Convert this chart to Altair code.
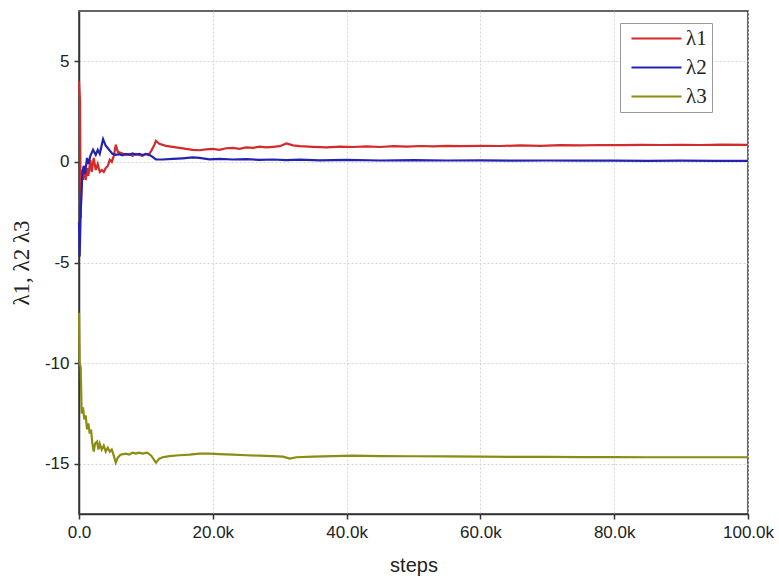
import altair as alt
import pandas as pd

# ---- data ----
red_steps = [0, 150, 250, 400, 600, 800, 1000, 1200, 1400, 1700, 1900, 2200, 2500, 2800, 3100, 3400,
             3700, 4000, 4300, 4600, 4900, 5200, 5500, 5800, 6200, 6600, 7000, 7500, 8000, 8500, 9000,
             9500, 10000, 10400, 10800, 11200, 11500, 12000, 13000, 14000, 15000, 16000, 17000, 18000,
             19000, 20000, 21000, 22000, 23000, 24000, 25000, 26000, 27000, 28000, 29000, 30000, 31000,
             32000, 33000, 35000, 37000, 39000, 41000, 43000, 45000, 47000, 49000, 51000, 53000, 55000,
             57000, 60000, 63000, 66000, 69000, 72000, 75000, 78000, 81000, 84000, 87000, 90000, 93000,
             96000, 100000]
red_vals = [4.0, 3.0, -2.8, -0.4, -0.9, -0.2, -0.9, -0.3, -0.7, 0.1, -0.5, 0.2, -0.4, -0.1, -0.5, -0.4,
            -0.5, -0.3, -0.2, 0.1, 0.0, 0.3, 0.85, 0.5, 0.45, 0.4, 0.35, 0.4, 0.3, 0.4, 0.35,
            0.3, 0.4, 0.35, 0.55, 0.8, 1.05, 0.9, 0.8, 0.75, 0.7, 0.65, 0.6, 0.58,
            0.62, 0.65, 0.6, 0.68, 0.7, 0.65, 0.72, 0.7, 0.76, 0.72, 0.75, 0.78, 0.92,
            0.82, 0.78, 0.75, 0.72, 0.76, 0.74, 0.77, 0.74, 0.78, 0.76, 0.79, 0.77, 0.8,
            0.78, 0.8, 0.79, 0.82, 0.8, 0.83, 0.82, 0.84, 0.83, 0.85, 0.84, 0.85, 0.84,
            0.86, 0.85]

blue_steps = [0, 100, 250, 500, 700, 900, 1200, 1400, 1700, 2100, 2500, 2800, 3100, 3600, 4000, 4500,
              5000, 5500, 6000, 6500, 7000, 7500, 8000, 8500, 9000, 9500, 10000, 10500, 11000, 11500,
              12500, 14000, 15500, 17000, 18000, 19500, 21000, 23000, 25000, 27000, 29000, 31000,
              33000, 36000, 40000, 45000, 50000, 55000, 60000, 65000, 70000, 75000, 80000, 85000,
              90000, 95000, 100000]
blue_vals = [-3.0, -4.7, -2.5, -0.6, -0.2, -0.6, 0.2, -0.1, 0.3, 0.6, 0.35, 0.6, 0.4, 1.13, 0.8, 0.6,
             0.4, 0.35, 0.38, 0.33, 0.4, 0.35, 0.42, 0.36, 0.4, 0.34, 0.4, 0.35, 0.25, 0.12,
             0.12, 0.15, 0.18, 0.22, 0.2, 0.13, 0.15, 0.12, 0.14, 0.1, 0.12, 0.09,
             0.11, 0.08, 0.1, 0.07, 0.09, 0.07, 0.08, 0.06, 0.07, 0.06, 0.06, 0.05,
             0.06, 0.05, 0.05]

olive_steps = [0, 100, 250, 400, 600, 800, 1000, 1200, 1400, 1600, 1800, 2000, 2200, 2400, 2700, 2900,
               3100, 3400, 3700, 4000, 4300, 4600, 4900, 5200, 5500, 5800, 6200, 7000, 7500, 8000,
               8500, 9000, 9500, 10200, 10800, 11500, 12000, 12500, 13500, 15000, 16500, 18000, 19500,
               21000, 23000, 25000, 27000, 29000, 30500, 31500, 32500, 35000, 38000, 41000, 45000,
               50000, 55000, 60000, 65000, 70000, 75000, 80000, 85000, 90000, 95000, 100000]
olive_vals = [-7.5, -10.0, -10.2, -12.5, -12.2, -12.8, -12.6, -13.3, -13.0, -13.5, -13.3, -14.0, -14.4,
              -14.0, -13.9, -14.3, -14.0, -14.3, -14.1, -14.4, -14.2, -14.4, -14.3, -14.6, -14.95,
              -14.7, -14.55, -14.5, -14.55, -14.45, -14.5, -14.45, -14.5, -14.45, -14.6, -14.95,
              -14.75, -14.68, -14.62, -14.58, -14.55, -14.5, -14.5, -14.52, -14.55, -14.58, -14.6,
              -14.62, -14.65, -14.75, -14.68, -14.65, -14.62, -14.6, -14.62, -14.63, -14.64, -14.65,
              -14.66, -14.66, -14.67, -14.67, -14.68, -14.68, -14.68, -14.68]

series_names = ["λ1", "λ2", "λ3"]
series_colors = ["#d42a2a", "#2323b0", "#8c8c10"]

rows = []
for name, st, vs in zip(series_names, [red_steps, blue_steps, olive_steps],
                        [red_vals, blue_vals, olive_vals]):
    for i, (s, v) in enumerate(zip(st, vs)):
        rows.append({"steps": s, "value": v, "series": name, "order": i})
df = pd.DataFrame(rows)

x_label_expr = "datum.value == 0 ? '0.0' : format(datum.value / 1000, '.1f') + 'k'"
y_label_expr = "'' + datum.value"

chart = alt.Chart(df).mark_line(strokeWidth=2.2).encode(
    x=alt.X("steps:Q", scale=alt.Scale(domain=[0, 100000], nice=False),
            axis=alt.Axis(values=[0, 20000, 40000, 60000, 80000, 100000], labelExpr=x_label_expr,
                          labelFlush=False, labelOverlap=False,
                          title="steps", titleFontSize=20, titleFontWeight="normal",
                          titleFont="Liberation Sans", titlePadding=15)),
    y=alt.Y("value:Q", scale=alt.Scale(domain=[-17.5, 7.5], nice=False, zero=False),
            axis=alt.Axis(values=[-15, -10, -5, 0, 5], labelExpr=y_label_expr, labelFlush=False,
                          title="λ1, λ2 λ3", titleFont="Liberation Serif",
                          titleFontSize=23, titleFontWeight="normal", titlePadding=11)),
    color=alt.Color("series:N", scale=alt.Scale(domain=series_names, range=series_colors),
                    legend=alt.Legend(title=None, orient="none", legendX=541, legendY=12,
                                      symbolType="M-4,0L4,0", symbolSize=156.25, symbolStrokeWidth=2,
                                      symbolOffset=21,
                                      labelFont="Liberation Serif", labelFontSize=21,
                                      labelColor="#222", strokeColor="#999", fillColor="white",
                                      padding=5, rowPadding=7, labelOffset=19)),
    order="order:Q",
).properties(
    width=669, height=503,
    autosize=alt.AutoSizeParams(type="none"),
    padding={"left": 79, "top": 11, "right": 31, "bottom": 64},
).configure_view(
    stroke="#333", strokeWidth=1.5,
).configure_axis(
    labelFont="Liberation Sans", labelFontSize=17, labelColor="#222", titleColor="#222",
    domainColor="#333", domainWidth=1.5, tickColor="#333", tickWidth=1.5, tickSize=5,
    gridColor="#d4d4d4", gridDash=[2, 2], gridWidth=1, labelPadding=5,
)

chart.save("out.html", embed_options={"renderer": "svg", "actions": False})
